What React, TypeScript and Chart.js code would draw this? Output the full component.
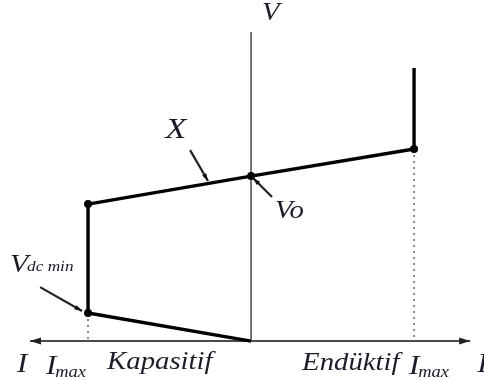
import React, { useEffect, useRef } from "react";
import { Chart, registerables } from "chart.js";

Chart.register(...registerables);

// Characteristic curve (I normalized to Imax, V normalized to Vo)
const curveI = [1, 1, 0, -1, -1, 0];
const curveV = [1.655, 1.164, 1.0, 0.83, 0.17, 0];
const dotRadius = [0, 4, 4, 4, 4, 0];

// Axes
const vAxisI = [0, 0];
const vAxisV = [0, 1.873];
const iAxisI = [-1.356, 1.344];
const iAxisV = [0, 0];

// Dotted guides at ±Imax
const guideLeftI = [-1, -1];
const guideLeftV = [0.17, 0];
const guideRightI = [1, 1];
const guideRightV = [1.164, 0];

// Pointer arrows [fromI, fromV, toI, toV]
const pointerX = [-0.374, 1.157, -0.264, 0.97];
const pointerVo = [0.129, 0.873, 0.012, 0.988];
const pointerVdc = [-1.294, 0.327, -1.037, 0.182];

// Labels: text, subscript, I, V, size
const labelTexts = ["V", "X", "Vo", "V", "I", "I", "Kapasitif", "Endüktif", "I", "I"];
const labelSubs = ["", "", "", "dc min", "", "max", "", "", "max", ""];
const labelI = [0.067, -0.527, 0.147, -1.479, -1.435, -1.258, -0.883, 0.313, 0.969, 1.387];
const labelV = [1.945, 1.23, 0.745, 0.418, -0.188, -0.2, -0.17, -0.176, -0.2, -0.188];
const labelSize = [25, 30, 25, 26, 27, 27, 25, 25, 27, 27];
const subSize = [0, 0, 0, 15, 0, 16, 0, 0, 16, 0];

const FONT = "'Liberation Serif', 'Times New Roman', serif";
const STRETCH = 1.15;

const pts = (xs: number[], ys: number[]) => xs.map((x, i) => ({ x, y: ys[i] }));

const overlay = {
  id: "overlay",
  afterDatasetsDraw(chart: any) {
    const { ctx, scales } = chart;
    const sx = (v: number) => scales.x.getPixelForValue(v);
    const sy = (v: number) => scales.y.getPixelForValue(v);
    ctx.save();
    // axis arrowheads
    const y0 = sy(0);
    ctx.fillStyle = "#222";
    const head = (tx: number, dir: number) => {
      ctx.beginPath();
      ctx.moveTo(tx, y0);
      ctx.lineTo(tx - dir * 11, y0 - 3.5);
      ctx.lineTo(tx - dir * 11, y0 + 3.5);
      ctx.closePath();
      ctx.fill();
    };
    head(sx(iAxisI[0]), -1);
    head(sx(iAxisI[1]), 1);

    // pointer arrows
    const pointer = (p: number[]) => {
      const x1 = sx(p[0]), y1 = sy(p[1]), x2 = sx(p[2]), y2 = sy(p[3]);
      ctx.strokeStyle = "#222";
      ctx.lineWidth = 2.2;
      ctx.beginPath();
      ctx.moveTo(x1, y1);
      ctx.lineTo(x2, y2);
      ctx.stroke();
      const a = Math.atan2(y2 - y1, x2 - x1);
      ctx.beginPath();
      ctx.moveTo(x2, y2);
      ctx.lineTo(x2 - 8 * Math.cos(a - 0.3), y2 - 8 * Math.sin(a - 0.3));
      ctx.lineTo(x2 - 8 * Math.cos(a + 0.3), y2 - 8 * Math.sin(a + 0.3));
      ctx.closePath();
      ctx.fillStyle = "#111";
      ctx.fill();
    };
    pointer(pointerX);
    pointer(pointerVo);
    pointer(pointerVdc);

    // labels
    ctx.textBaseline = "alphabetic";
    ctx.textAlign = "left";
    ctx.fillStyle = "#1c1c28";
    labelTexts.forEach((t, i) => {
      const size = labelSize[i];
      const x = sx(labelI[i]);
      const y = sy(labelV[i]);
      ctx.save();
      ctx.translate(x, y);
      ctx.scale(STRETCH, 1);
      ctx.font = `italic ${size}px ${FONT}`;
      ctx.fillText(t, 0, 0);
      if (labelSubs[i]) {
        const w = ctx.measureText(t).width;
        ctx.font = `italic ${subSize[i]}px ${FONT}`;
        ctx.fillText(labelSubs[i], w - 1, i === 3 ? -1 : 3);
      }
      ctx.restore();
    });
    ctx.restore();
  },
};

export default function App() {
  const ref = useRef<HTMLCanvasElement>(null);
  useEffect(() => {
    if (!ref.current) return;
    const chart = new Chart(ref.current, {
      type: "scatter",
      data: {
        datasets: [
          {
            data: pts(iAxisI, iAxisV),
            showLine: true,
            borderColor: "#4a4a4a",
            borderWidth: 2,
            pointRadius: 0,
            order: 5,
          },
          {
            data: pts(vAxisI, vAxisV),
            showLine: true,
            borderColor: "#666",
            borderWidth: 1.8,
            pointRadius: 0,
            order: 4,
          },
          {
            data: pts(guideLeftI, guideLeftV),
            showLine: true,
            borderColor: "#888",
            borderWidth: 2,
            borderDash: [2, 4],
            pointRadius: 0,
            order: 3,
          },
          {
            data: pts(guideRightI, guideRightV),
            showLine: true,
            borderColor: "#888",
            borderWidth: 2,
            borderDash: [2, 4],
            pointRadius: 0,
            order: 3,
          },
          {
            data: pts(curveI, curveV),
            showLine: true,
            borderColor: "#000",
            borderWidth: 3.4,
            pointRadius: dotRadius,
            pointBackgroundColor: "#000",
            pointBorderWidth: 0,
            order: 1,
          },
        ] as any,
      },
      options: {
        responsive: false,
        animation: false,
        events: [],
        layout: { padding: 0 },
        plugins: { legend: { display: false }, tooltip: { enabled: false } },
        scales: {
          x: { type: "linear", display: false, min: -1.54, max: 1.429 },
          y: { type: "linear", display: false, min: -0.236, max: 2.067 },
        },
      },
      plugins: [overlay],
    });
    return () => chart.destroy();
  }, []);
  return (
    <div style={{ position: "fixed", left: 0, top: 0, width: 484, height: 380, background: "#fff" }}>
      <canvas ref={ref} width={484} height={380} style={{ width: 484, height: 380 }} />
    </div>
  );
}
